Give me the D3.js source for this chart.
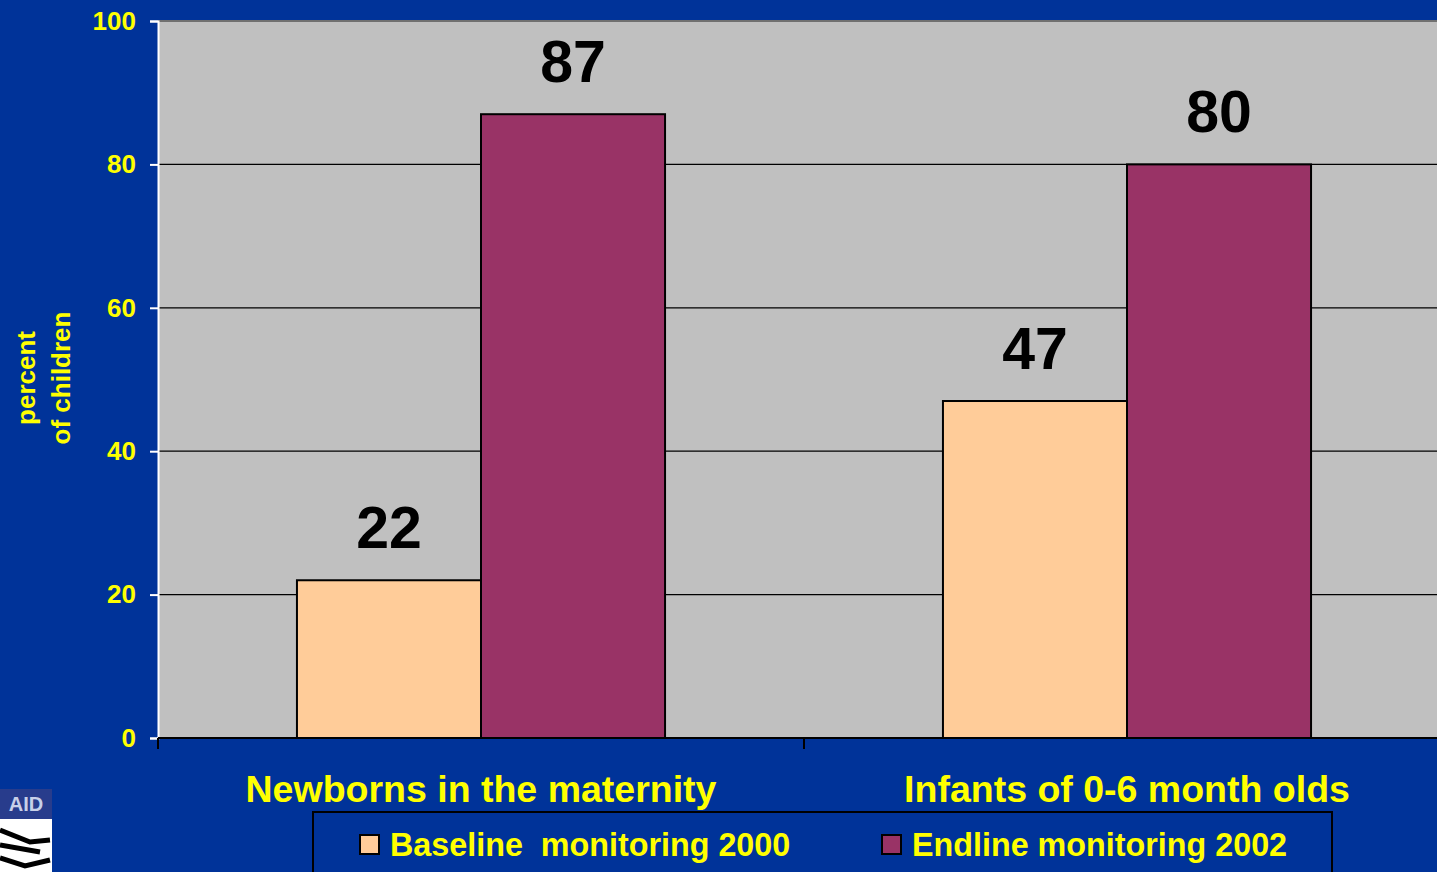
<!DOCTYPE html>
<html>
<head>
<meta charset="utf-8">
<script src="https://cdn.jsdelivr.net/npm/d3@7"></script>
<style>
  html, body { margin: 0; padding: 0; background: #003399; overflow: hidden; }
  text { font-family: Arial, "Liberation Sans", sans-serif; font-weight: bold; }
</style>
</head>
<body>
<div id="plot"></div>
<script>
// chart data
var categories = ["Newborns in the maternity", "Infants of 0-6 month olds"];
var series_names = ["Baseline  monitoring 2000", "Endline monitoring 2002"];
var baseline_values = [22, 47];
var endline_values = [87, 80];
var y_ticks = [0, 20, 40, 60, 80, 100];

var width = 1437, height = 872;
var colors = ["#FFCC99", "#993366"];

var svg = d3.select("div#plot").append("svg")
    .attr("width", width)
    .attr("height", height)
    .attr("viewBox", "0 0 " + width + " " + height);

svg.append("rect").attr("width", width).attr("height", height).attr("fill", "#003399");

// plot area runs off the right edge, like the slide
var plot_left = 158, plot_right = 1450, plot_top = 21, plot_bottom = 738;

var x_scale = d3.scaleBand()
    .domain(categories)
    .range([plot_left, plot_right]);

var x_inner = d3.scaleBand()
    .domain(series_names)
    .range([0, x_scale.bandwidth()])
    .paddingOuter(0.755)
    .paddingInner(0);

var y_scale = d3.scaleLinear()
    .domain([0, 100])
    .range([plot_bottom, plot_top]);

// grey plot background
svg.append("rect")
    .attr("x", plot_left).attr("y", plot_top)
    .attr("width", plot_right - plot_left).attr("height", plot_bottom - plot_top)
    .attr("fill", "#C0C0C0");

// top border
svg.append("line")
    .attr("x1", plot_left).attr("x2", plot_right)
    .attr("y1", plot_top).attr("y2", plot_top)
    .style("stroke", "#707070").style("stroke-width", 2);

// gridlines
svg.append("g").attr("id", "grid")
    .selectAll("line")
    .data(y_ticks.filter(d => d > 0 && d < 100))
    .join("line")
        .attr("x1", plot_left).attr("x2", plot_right)
        .attr("y1", d => y_scale(d)).attr("y2", d => y_scale(d))
        .style("stroke", "black").style("stroke-width", 1.3);

// bars
var bar_data = [];
categories.forEach(function(c, i) {
    bar_data.push({cat: c, s: series_names[0], v: baseline_values[i], k: 0});
    bar_data.push({cat: c, s: series_names[1], v: endline_values[i], k: 1});
});

svg.append("g").attr("id", "bars")
    .selectAll("rect")
    .data(bar_data)
    .join("rect")
        .attr("x", d => x_scale(d.cat) + x_inner(d.s))
        .attr("y", d => y_scale(d.v))
        .attr("width", x_inner.bandwidth())
        .attr("height", d => y_scale(0) - y_scale(d.v))
        .attr("fill", d => colors[d.k])
        .style("stroke", "black").style("stroke-width", 2);

// value labels
svg.append("g").attr("id", "values")
    .selectAll("text")
    .data(bar_data)
    .join("text")
        .attr("x", d => x_scale(d.cat) + x_inner(d.s) + x_inner.bandwidth() / 2)
        .attr("y", d => y_scale(d.v) - 32)
        .attr("text-anchor", "middle")
        .style("font-size", "59px")
        .style("fill", "black")
        .text(d => d.v);

// Y axis
var g_y_axis = svg.append("g")
    .attr("id", "y_axis")
    .attr("transform", "translate(" + plot_left + ", 0)")
    .call(d3.axisLeft(y_scale).tickValues(y_ticks).tickSize(8).tickPadding(14));
g_y_axis.select(".domain").style("stroke", "white").style("stroke-width", 2);
g_y_axis.selectAll(".tick line").style("stroke", "white").style("stroke-width", 2);
g_y_axis.selectAll(".tick text")
    .style("fill", "#FFFF00")
    .style("font-size", "26px")
    .style("font-family", "Arial, 'Liberation Sans', sans-serif")
    .style("font-weight", "bold");

// X axis
var g_x_axis = svg.append("g")
    .attr("id", "x_axis")
    .attr("transform", "translate(0, " + plot_bottom + ")");
g_x_axis.append("line")
    .attr("x1", plot_left).attr("x2", plot_right)
    .style("stroke", "black").style("stroke-width", 2);
g_x_axis.selectAll("line.tick")
    .data(categories)
    .join("line")
        .attr("class", "tick")
        .attr("x1", d => x_scale(d)).attr("x2", d => x_scale(d))
        .attr("y1", 0).attr("y2", 11)
        .style("stroke", "black").style("stroke-width", 2);
g_x_axis.selectAll("text")
    .data(categories)
    .join("text")
        .attr("x", d => x_scale(d) + x_scale.bandwidth() / 2)
        .attr("y", 64)
        .attr("text-anchor", "middle")
        .style("font-size", "37.5px")
        .style("fill", "#FFFF00")
        .text(d => d);

// y axis title
var y_title = svg.append("text")
    .attr("transform", "translate(44, 378) rotate(-90)")
    .attr("text-anchor", "middle")
    .style("font-size", "26px")
    .style("fill", "#FFFF00");
y_title.append("tspan").attr("x", 0).attr("y", -9).text("percent");
y_title.append("tspan").attr("x", 0).attr("y", 26).text("of children");

// legend
var g_legend = svg.append("g").attr("id", "legend");
g_legend.append("rect")
    .attr("x", 313).attr("y", 812)
    .attr("width", 1019).attr("height", 80)
    .attr("fill", "none")
    .style("stroke", "black").style("stroke-width", 2);
var legend_x = [360, 882];
var items = g_legend.selectAll("g.item")
    .data(series_names)
    .join("g")
        .attr("class", "item")
        .attr("transform", (d, i) => "translate(" + legend_x[i] + ", 835)");
items.append("rect")
    .attr("width", 19).attr("height", 19)
    .attr("fill", (d, i) => colors[i])
    .style("stroke", "black").style("stroke-width", 2);
items.append("text")
    .attr("x", 30).attr("y", 21)
    .style("font-size", "32.3px")
    .style("fill", "#FFFF00")
    .style("white-space", "pre")
    .attr("xml:space", "preserve")
    .text(d => d);

// logo fragment, bottom left
var g_logo = svg.append("g").attr("id", "logo");
g_logo.append("rect").attr("x", 0).attr("y", 789).attr("width", 52).attr("height", 30).attr("fill", "#283c8c");
g_logo.append("text").attr("x", 26).attr("y", 811).attr("text-anchor", "middle")
    .style("font-size", "20px").style("fill", "#c8d0e8").text("AID");
g_logo.append("rect").attr("x", 0).attr("y", 819).attr("width", 52).attr("height", 53).attr("fill", "white");
g_logo.append("path")
    .attr("d", "M0,830 L30,842 L50,840 M0,845 L40,852 M0,858 L25,866 L50,860")
    .style("stroke", "black").style("stroke-width", 5).style("fill", "none");
</script>
</body>
</html>
